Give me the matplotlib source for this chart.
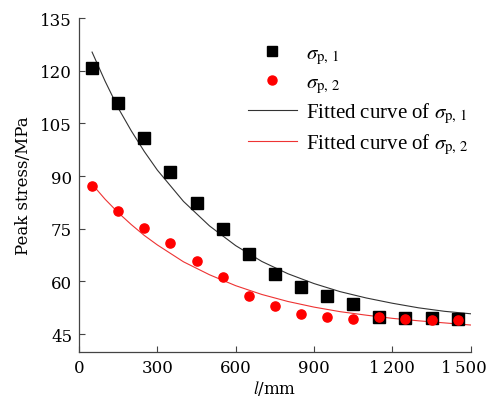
import matplotlib
matplotlib.use('Agg')
import matplotlib.pyplot as plt
from matplotlib.lines import Line2D
from matplotlib.transforms import ScaledTranslation

plt.rcParams['mathtext.fontset'] = 'stix'

# Measured peak stress (MPa) vs. length l (mm).
lengthMm = [50, 150, 250, 350, 450, 550, 650, 750, 850, 950,
            1050, 1150, 1250, 1350, 1450]
sigmaP1 = [120.7, 110.8, 100.7, 91.1, 82.3, 74.9, 67.8, 62.2, 58.5, 55.8,
           53.6, 50.0, 49.7, 49.5, 49.3]
sigmaP2 = [87.2, 80.0, 75.2, 71.0, 65.7, 61.3, 55.9, 53.0, 50.6, 49.9,
           49.3, 49.8, 49.3, 49.0, 49.0]

# Fitted curves.
fitLength = [50, 100, 150, 200, 250, 300, 400, 500, 600, 700, 800, 900,
             1000, 1100, 1200, 1300, 1400, 1500]
fitP1 = [125.3, 117.0, 109.4, 102.9, 97.0, 91.7, 82.8, 75.8, 70.2, 65.7,
         62.2, 59.4, 57.1, 55.3, 53.8, 52.5, 51.5, 50.8]
fitP2 = [87.7, 83.4, 79.6, 76.2, 73.1, 70.4, 65.6, 61.9, 58.8, 56.3,
         54.3, 52.7, 51.4, 50.4, 49.5, 48.8, 48.2, 47.6]

xTicks = [0, 300, 600, 900, 1200, 1500]
xTickLabels = ['0', '300', '600', '900', '1\u2009200', '1\u2009500']
yTicks = [45, 60, 75, 90, 105, 120, 135]

tickFont = 'DejaVu Serif'
tickSize = 12
legendSize = 15
spineColor = '#444444'

fig = plt.figure(figsize=(4.92, 4.02), dpi=100)
ax = fig.add_axes([0.1606, 0.1226, 0.7961, 0.8301])

ax.plot(fitLength, fitP1, color='#333333', lw=0.8)
ax.plot(fitLength, fitP2, color='#ee3333', lw=0.8)
ax.plot(lengthMm, sigmaP1, 's', color='black', ms=8, ls='none')
ax.plot(lengthMm, sigmaP2, 'o', color='#ff0000', ms=6.6, ls='none')

ax.set_xlim(0, 1500)
ax.set_ylim(40, 135)
ax.set_xticks(xTicks)
ax.set_xticklabels(xTickLabels, family=tickFont, fontsize=tickSize)
ax.set_yticks(yTicks)
ax.set_yticklabels([str(v) for v in yTicks], family=tickFont,
                   fontsize=tickSize)
ax.tick_params(direction='in', length=4.3, width=0.8, color=spineColor,
               pad=5)
# The last x label sits a little left of its tick, as in the original.
lastLabel = ax.get_xticklabels()[-1]
lastLabel.set_transform(lastLabel.get_transform() +
                        ScaledTranslation(-0.07, 0, fig.dpi_scale_trans))
for side in ['top', 'right']:
    ax.spines[side].set_visible(False)
for side in ['left', 'bottom']:
    ax.spines[side].set_color(spineColor)
    ax.spines[side].set_linewidth(0.9)

ax.set_xlabel(r'$\mathit{l}$/mm', family=tickFont, fontsize=tickSize,
              labelpad=2)
ax.set_ylabel('Peak stress/MPa', family=tickFont, fontsize=tickSize,
              labelpad=6)

# Legend with proxy handles.
handles = [
    Line2D([], [], marker='s', color='black', ls='none', ms=6.5),
    Line2D([], [], marker='o', color='#ff0000', ls='none', ms=6.5),
    Line2D([], [], color='#333333', lw=0.8),
    Line2D([], [], color='#ee3333', lw=0.8),
]
labels = [
    r'$\sigma_{\mathrm{p,\,1}}$',
    r'$\sigma_{\mathrm{p,\,2}}$',
    r'Fitted curve of $\sigma_{\mathrm{p,\,1}}$',
    r'Fitted curve of $\sigma_{\mathrm{p,\,2}}$',
]
leg = ax.legend(handles, labels, loc='upper left',
                bbox_to_anchor=(248 / 492, 1 - 45 / 402),
                bbox_transform=fig.transFigure, frameon=False,
                prop={'family': 'Liberation Serif', 'size': legendSize},
                handlelength=2.35, handletextpad=0.45, labelspacing=0.3,
                borderpad=0, borderaxespad=0)

fig.savefig('out.png', dpi=100)
